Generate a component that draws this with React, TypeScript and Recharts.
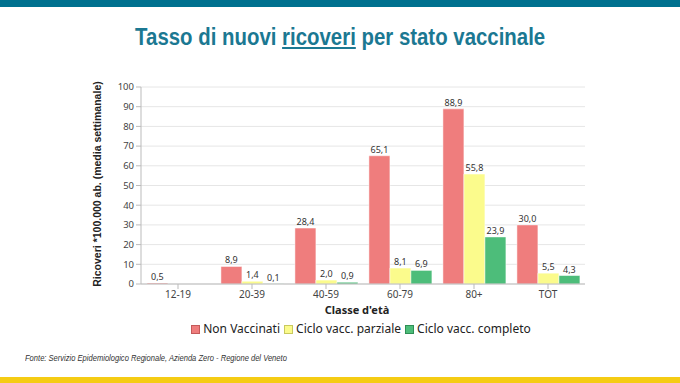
import { BarChart, Bar, XAxis, YAxis, CartesianGrid, LabelList, Label } from 'recharts'

const categories = ['12-19', '20-39', '40-59', '60-79', '80+', 'TOT']
const nonVaccinati = [0.5, 8.9, 28.4, 65.1, 88.9, 30.0]
const cicloParziale = [null, 1.4, 2.0, 8.1, 55.8, 5.5]
const cicloCompleto = [null, 0.1, 0.9, 6.9, 23.9, 4.3]
const yTicks = [0, 10, 20, 30, 40, 50, 60, 70, 80, 90, 100]

const SERIES = [
  { key: 'nonVacc', name: 'Non Vaccinati', color: '#ef7d7d', border: '#c45a5a' },
  { key: 'parziale', name: 'Ciclo vacc. parziale', color: '#fbfb8c', border: '#c9c95e' },
  { key: 'completo', name: 'Ciclo vacc. completo', color: '#4dbd7a', border: '#2f8f55' },
]

const data = categories.map((cat, i) => ({
  cat,
  nonVacc: nonVaccinati[i],
  parziale: cicloParziale[i],
  completo: cicloCompleto[i],
}))

const FONT = "'Noto Sans', 'DejaVu Sans', sans-serif"

const fmt = (v: any) => (v == null ? '' : Number(v).toFixed(1).replace('.', ','))

export default function App() {
  return (
    <div style={{ position: 'relative', width: 680, height: 383, background: '#fff', overflow: 'hidden', fontFamily: FONT }}>
      <style>{`body{margin:0}`}</style>
      <div style={{ position: 'absolute', left: 0, top: 0, width: 680, height: 7, background: '#00718f' }} />
      <div
        style={{
          position: 'absolute',
          left: 0,
          top: 22,
          width: 680,
          textAlign: 'center',
          fontFamily: "'Liberation Sans', sans-serif",
          fontWeight: 'bold',
          fontSize: 24,
          color: '#1b7892',
          lineHeight: '30px',
          transform: 'scaleX(0.85)',
          transformOrigin: '341px 0',
        }}
      >
        Tasso di nuovi <span style={{ textDecoration: 'underline' }}>ricoveri</span> per stato vaccinale
      </div>

      <div style={{ position: 'absolute', left: 0, top: 0 }}>
        <BarChart
          width={680}
          height={383}
          data={data}
          margin={{ top: 87, right: 95, bottom: 69, left: 101 }}
          barCategoryGap="8%"
          barGap={0}
        >
          <CartesianGrid vertical={false} stroke="#e6e6e6" />
          <XAxis
            dataKey="cat"
            height={30}
            tick={{ fontSize: 10, fill: '#444', fontFamily: FONT }}
            tickLine={{ stroke: '#bbb' }}
            axisLine={{ stroke: '#bbb' }}
            tickSize={5}
            interval={0}
          >
            <Label
              value="Classe d'età"
              position="insideBottom"
              offset={0}
              dx={-6}
              style={{ fontSize: 11, fontWeight: 'bold', fill: '#222', fontFamily: FONT }}
            />
          </XAxis>
          <YAxis
            width={40}
            domain={[0, 100]}
            ticks={yTicks}
            interval={0}
            tick={{ fontSize: 9.5, fill: '#444', fontFamily: FONT }}
            tickLine={{ stroke: '#bbb' }}
            axisLine={{ stroke: '#bbb' }}
            tickSize={5}
          />
          {SERIES.map((s) => (
            <Bar key={s.key} dataKey={s.key} name={s.name} fill={s.color} stroke="#fff" strokeWidth={0.5} isAnimationActive={false}>
              <LabelList
                dataKey={s.key}
                position="top"
                offset={3}
                formatter={fmt}
                style={{ fontSize: 9, fill: '#333', fontFamily: FONT }}
              />
            </Bar>
          ))}
        </BarChart>
      </div>

      <div style={{ position: 'absolute', left: 97, top: 184, width: 0, height: 0 }}>
        <div
          style={{
            position: 'absolute',
            left: -120,
            top: -7,
            width: 240,
            textAlign: 'center',
            transform: 'rotate(-90deg)',
            fontFamily: "'Liberation Sans', sans-serif",
            fontWeight: 'bold',
            fontSize: 10.5,
            color: '#222',
            lineHeight: '14px',
            whiteSpace: 'nowrap',
          }}
        >
          Ricoveri *100.000 ab. (media settimanale)
        </div>
      </div>

      <div
        style={{
          position: 'absolute',
          left: 141,
          top: 321,
          width: 444,
          display: 'flex',
          justifyContent: 'center',
          fontSize: 12,
          color: '#222',
          lineHeight: '16px',
          whiteSpace: 'nowrap',
        }}
      >
        {SERIES.map((s) => (
          <span key={s.key} style={{ display: 'inline-flex', alignItems: 'center', marginRight: 4 }}>
            <span
              style={{
                display: 'inline-block',
                width: 7,
                height: 7,
                background: s.color,
                border: `1px solid ${s.border}`,
                marginRight: 3,
              }}
            />
            {s.name}
          </span>
        ))}
      </div>

      <div
        style={{
          position: 'absolute',
          left: 25,
          top: 353,
          fontFamily: "'Liberation Sans', sans-serif",
          fontStyle: 'italic',
          fontSize: 8.5,
          color: '#333',
          whiteSpace: 'nowrap',
          transform: 'scaleX(0.89)',
          transformOrigin: '0 0',
        }}
      >
        Fonte: Servizio Epidemiologico Regionale, Azienda Zero - Regione del Veneto
      </div>

      <div style={{ position: 'absolute', left: 0, top: 377, width: 680, height: 6, background: '#f5cc14' }} />
    </div>
  )
}
